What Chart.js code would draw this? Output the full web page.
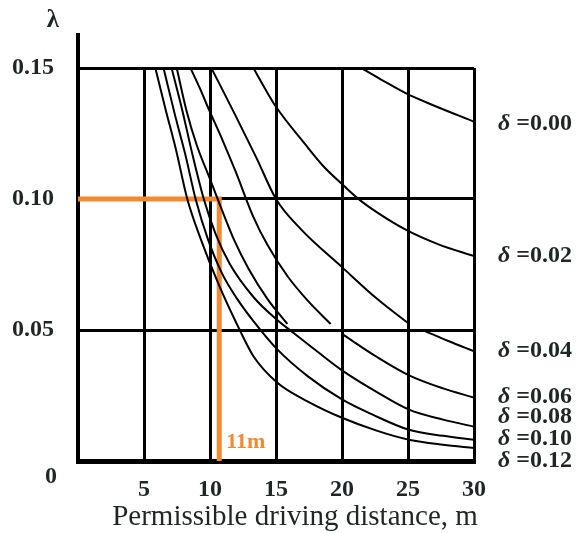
<!DOCTYPE html>
<html>
<head>
    <meta charset="utf-8">
    <title>Permissible driving distance</title>
    <script src="https://cdn.jsdelivr.net/npm/chart.js@4"></script>
    <style>
        body { margin: 0; background: #fff; }
    </style>
</head>
<body>
    <canvas id="myChart" width="583" height="533"></canvas>

    <script>
        // values: x = driving distance (m), y = lambda
        var xTicks = [0, 5, 10, 15, 20, 25, 30];
        var yTicks = [0, 0.05, 0.10, 0.15];

        var d00_x = [21.45, 23.0, 24.9, 27.0, 30];
        var d00_y = [0.150, 0.1455, 0.1402, 0.1356, 0.1295];

        var d02_x = [13.29, 14.14, 15, 17.19, 18.59, 20, 21.01, 21.96, 24.86, 27.26, 30];
        var d02_y = [0.150, 0.1424, 0.1352, 0.1210, 0.1125, 0.1057, 0.1010, 0.0973, 0.0882, 0.0828, 0.0782];

        var d04_x = [10.1, 11.86, 13.5, 15, 16.88, 20, 22.68, 25.08, 25.7, 26.29, 28.06, 30];
        var d04_y = [0.150, 0.1326, 0.1159, 0.100, 0.0885, 0.0740, 0.0618, 0.0523, null, 0.0496, 0.0458, 0.0419];

        var d06_x = [8.52, 9.22, 9.92, 10.93, 11.93, 13.29, 14.36, 15.86, 17.42, 19.14, 19.6, 20, 22.68, 25.08, 27.66, 30];
        var d06_y = [0.150, 0.1424, 0.1341, 0.1227, 0.1106, 0.0931, 0.0824, 0.0706, 0.0611, 0.0523, null, 0.0485, 0.0396, 0.0327, 0.0277, 0.0242];

        // short curve that stops at the 0.05 line
        var extra_x = [7.48, 8.2, 8.98, 10, 10.79, 11.86, 12.93, 14.36, 15.86];
        var extra_y = [0.150, 0.1341, 0.1208, 0.1076, 0.0973, 0.0840, 0.0733, 0.0618, 0.0523];

        var d08_x = [7.09, 7.89, 8.67, 9.53, 10.43, 11.5, 13.29, 15, 16.25, 18.2, 20, 22.68, 25.08, 27.66, 30];
        var d08_y = [0.150, 0.1341, 0.1170, 0.100, 0.0866, 0.0752, 0.0626, 0.0542, 0.0492, 0.0415, 0.0346, 0.0262, 0.0196, 0.0158, 0.0131];

        var d10_x = [6.48, 7.34, 8.13, 8.91, 9.84, 10.93, 12.07, 13.29, 15.08, 17.42, 20, 22.32, 25.08, 27.66, 30];
        var d10_y = [0.150, 0.1322, 0.1170, 0.100, 0.0847, 0.0714, 0.0618, 0.0534, 0.0427, 0.0323, 0.0235, 0.0177, 0.0119, 0.0096, 0.0081];

        var d12_x = [5.86, 6.64, 7.42, 8.28, 9.3, 10.64, 12.07, 13.29, 15.08, 17.42, 20, 22.68, 25.08, 27.66, 30];
        var d12_y = [0.150, 0.1341, 0.1189, 0.100, 0.0847, 0.0676, 0.0519, 0.0400, 0.0300, 0.0227, 0.0165, 0.0115, 0.0081, 0.0062, 0.0050];

        // orange reading line
        var read_x = [0, 10.7, 10.7];
        var read_y = [0.10, 0.10, 0];
        var readLabel = '11m';

        var deltaLabels = ['0.00', '0.02', '0.04', '0.06', '0.08', '0.10', '0.12'];
        var deltaLabelAt = [0.1288, 0.0782, 0.0419, 0.0246, 0.0167, 0.0085, 0.0];

        var xTitle = 'Permissible driving distance, m';

        var SERIF = "'Liberation Serif', 'Times New Roman', serif";
        var TEXT = '#1f2626';
        var ORANGE = '#f28a32';

        function toPoints(xs, ys) {
            return xs.map(function (x, i) { return { x: x, y: ys[i] }; });
        }

        function curve(xs, ys) {
            return {
                data: toPoints(xs, ys),
                borderColor: '#000',
                borderWidth: 2,
                pointRadius: 0,
                cubicInterpolationMode: 'monotone',
                spanGaps: false,
                fill: false
            };
        }

        var datasets = [
            curve(d00_x, d00_y),
            curve(d02_x, d02_y),
            curve(d04_x, d04_y),
            curve(d06_x, d06_y),
            curve(extra_x, extra_y),
            curve(d08_x, d08_y),
            curve(d10_x, d10_y),
            curve(d12_x, d12_y),
            {
                data: toPoints(read_x, read_y),
                borderColor: ORANGE,
                borderWidth: 5,
                pointRadius: 0,
                tension: 0,
                borderJoinStyle: 'miter',
                borderCapStyle: 'butt'
            }
        ];

        // things drawn by hand: axis stub, lambda, lone "0", labels
        var extras = {
            id: 'extras',
            afterDraw: function (chart) {
                var ctx = chart.ctx;
                var a = chart.chartArea;
                var xs = chart.scales.x, ys = chart.scales.y;
                ctx.save();

                ctx.strokeStyle = '#000';
                ctx.lineWidth = 4;
                ctx.beginPath();
                ctx.moveTo(a.left, a.top - 35);
                ctx.lineTo(a.left, a.top);
                ctx.stroke();

                ctx.fillStyle = TEXT;
                ctx.textAlign = 'center';
                ctx.textBaseline = 'middle';
                ctx.font = 'bold 25px ' + SERIF;
                ctx.fillText('\u03bb', a.left - 25, a.top - 47);
                ctx.font = 'bold 24px ' + SERIF;
                ctx.fillText('0', a.left - 27, a.bottom + 16);

                ctx.font = '29px ' + SERIF;
                ctx.fillText(xTitle, (a.left + a.right) / 2 + 19, a.bottom + 56);

                ctx.textAlign = 'left';
                deltaLabels.forEach(function (lab, i) {
                    var y = ys.getPixelForValue(deltaLabelAt[i]);
                    var x = a.right + 24;
                    ctx.font = 'italic bold 24px ' + SERIF;
                    ctx.fillText('\u03b4', x, y);
                    var w = ctx.measureText('\u03b4 ').width;
                    ctx.font = 'bold 24px ' + SERIF;
                    ctx.fillText('=' + lab, x + w, y);
                });

                ctx.fillStyle = ORANGE;
                ctx.font = 'bold 22px ' + SERIF;
                ctx.fillText(readLabel, xs.getPixelForValue(read_x[1]) + 7, a.bottom - 19);

                ctx.restore();
            }
        };

        new Chart(document.getElementById('myChart'), {
            type: 'line',
            data: { datasets: datasets },
            options: {
                responsive: false,
                animation: false,
                layout: { padding: { top: 68, right: 109, left: 0, bottom: 0 } },
                plugins: {
                    legend: { display: false },
                    tooltip: { enabled: false }
                },
                scales: {
                    x: {
                        type: 'linear',
                        min: xTicks[0],
                        max: xTicks[xTicks.length - 1],
                        afterFit: function (s) { s.height = 72; },
                        afterBuildTicks: function (s) {
                            s.ticks = xTicks.map(function (v) { return { value: v }; });
                        },
                        ticks: {
                            callback: function (v) { return v === 0 ? '' : v; },
                            font: { family: SERIF, size: 24, weight: 'bold' },
                            color: TEXT,
                            padding: 14,
                            maxRotation: 0
                        },
                        grid: { color: '#000', lineWidth: 3, drawTicks: false },
                        border: { color: '#000', width: 5 }
                    },
                    y: {
                        min: yTicks[0],
                        max: yTicks[yTicks.length - 1],
                        afterFit: function (s) { s.width = 78; },
                        afterBuildTicks: function (s) {
                            s.ticks = yTicks.map(function (v) { return { value: v }; });
                        },
                        ticks: {
                            callback: function (v) { return v === 0 ? '' : v.toFixed(2); },
                            font: { family: SERIF, size: 24, weight: 'bold' },
                            color: TEXT,
                            padding: 24
                        },
                        grid: { color: '#000', lineWidth: 3, drawTicks: false },
                        border: { color: '#000', width: 4 }
                    }
                }
            },
            plugins: [extras]
        });
    </script>
</body>
</html>
